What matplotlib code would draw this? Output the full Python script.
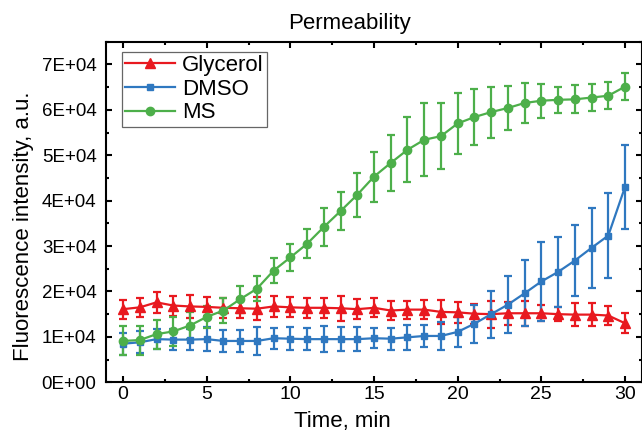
import numpy as np
import matplotlib
matplotlib.use("Agg")
import matplotlib.pyplot as plt
from matplotlib.ticker import FuncFormatter, MultipleLocator

plt.rcParams['font.family'] = ['Liberation Sans', 'DejaVu Sans']

# time points (min)
time = np.arange(0, 31)

# fluorescence, units of 1E+04
glycerol = [1.61, 1.65, 1.76, 1.69, 1.67, 1.66, 1.64, 1.63, 1.62, 1.67,
            1.65, 1.64, 1.64, 1.63, 1.61, 1.64, 1.58, 1.60, 1.60, 1.55,
            1.54, 1.51, 1.50, 1.52, 1.52, 1.52, 1.50, 1.49, 1.49, 1.47, 1.30]
glycerol_err = [0.21, 0.21, 0.23, 0.22, 0.25, 0.21, 0.22, 0.22, 0.25, 0.24,
                0.22, 0.22, 0.22, 0.27, 0.22, 0.21, 0.20, 0.20, 0.21, 0.27,
                0.23, 0.22, 0.30, 0.25, 0.27, 0.18, 0.16, 0.25, 0.25, 0.21, 0.22]

dmso = [0.85, 0.88, 0.95, 0.94, 0.94, 0.95, 0.91, 0.91, 0.91, 0.97,
        0.96, 0.95, 0.95, 0.95, 0.95, 0.97, 0.96, 0.99, 1.02, 1.02,
        1.11, 1.29, 1.50, 1.71, 1.96, 2.22, 2.43, 2.68, 2.96, 3.23, 4.30]
dmso_err = [0.24, 0.24, 0.22, 0.23, 0.23, 0.26, 0.25, 0.25, 0.31, 0.23,
            0.26, 0.25, 0.28, 0.26, 0.26, 0.22, 0.24, 0.28, 0.24, 0.30,
            0.33, 0.42, 0.52, 0.62, 0.73, 0.88, 0.78, 0.79, 0.88, 0.93, 0.93]

ms = [0.91, 0.93, 1.06, 1.12, 1.25, 1.44, 1.58, 1.83, 2.06, 2.46,
      2.75, 3.05, 3.42, 3.77, 4.13, 4.53, 4.83, 5.12, 5.34, 5.42,
      5.70, 5.84, 5.95, 6.04, 6.15, 6.20, 6.22, 6.23, 6.27, 6.31, 6.51]
ms_err = [0.32, 0.32, 0.32, 0.32, 0.30, 0.25, 0.28, 0.30, 0.27, 0.28,
          0.29, 0.32, 0.41, 0.42, 0.48, 0.55, 0.62, 0.72, 0.80, 0.73,
          0.68, 0.61, 0.56, 0.49, 0.43, 0.37, 0.29, 0.31, 0.30, 0.30, 0.29]

series = [
    ('Glycerol', glycerol, glycerol_err, '#E8191F', '^', 6.5),
    ('DMSO', dmso, dmso_err, '#2F78C0', 's', 5),
    ('MS', ms, ms_err, '#4DAF4A', 'o', 6),
]

fig = plt.figure(figsize=(6.42, 4.36), dpi=100)
ax = fig.add_axes([0.1656, 0.1232, 0.834, 0.7812])

handles = []
for name, vals, errs, col, mk, msz in series:
    c = ax.errorbar(time, np.array(vals) * 1e4, yerr=np.array(errs) * 1e4,
                    color=col, marker=mk, markersize=msz, linewidth=1.6,
                    elinewidth=1.6, capsize=3, capthick=1.6, label=name)
    handles.append(c[0])

ax.set_xlim(-1, 31)
ax.set_ylim(0, 7.5e4)
ax.xaxis.set_major_locator(MultipleLocator(5))
ax.xaxis.set_minor_locator(MultipleLocator(2.5))
ax.yaxis.set_major_locator(MultipleLocator(1e4))
ax.yaxis.set_minor_locator(MultipleLocator(5e3))
ax.yaxis.set_major_formatter(FuncFormatter(lambda v, p: format(v, '.0E')))

ax.tick_params(which='both', direction='in', top=True, right=True, width=1.5)
ax.tick_params(which='major', length=4.5)
ax.tick_params(which='minor', length=2.5)
ax.tick_params(axis='x', labelsize=14, pad=3)
ax.tick_params(axis='y', labelsize=13.5, pad=7)
for sp in ax.spines.values():
    sp.set_linewidth(1.5)

ax.set_title('Permeability', fontsize=16, pad=9, x=0.455)
ax.set_xlabel('Time, min', fontsize=16)
ax.set_ylabel('Fluorescence intensity, a.u.', fontsize=16)
ax.xaxis.set_label_coords(0.441, -0.085)
ax.yaxis.set_label_coords(-0.1356, 0.459)

leg = ax.legend(handles, [s[0] for s in series], loc='upper left',
                bbox_to_anchor=(0.0288, 0.9706), borderaxespad=0,
                fontsize=16, handlelength=2.25, fancybox=False, framealpha=1,
                edgecolor='#666666', borderpad=0.15, labelspacing=0.12,
                handletextpad=0.3)
leg.get_frame().set_linewidth(0.9)

fig.savefig('out.png', dpi=100)
